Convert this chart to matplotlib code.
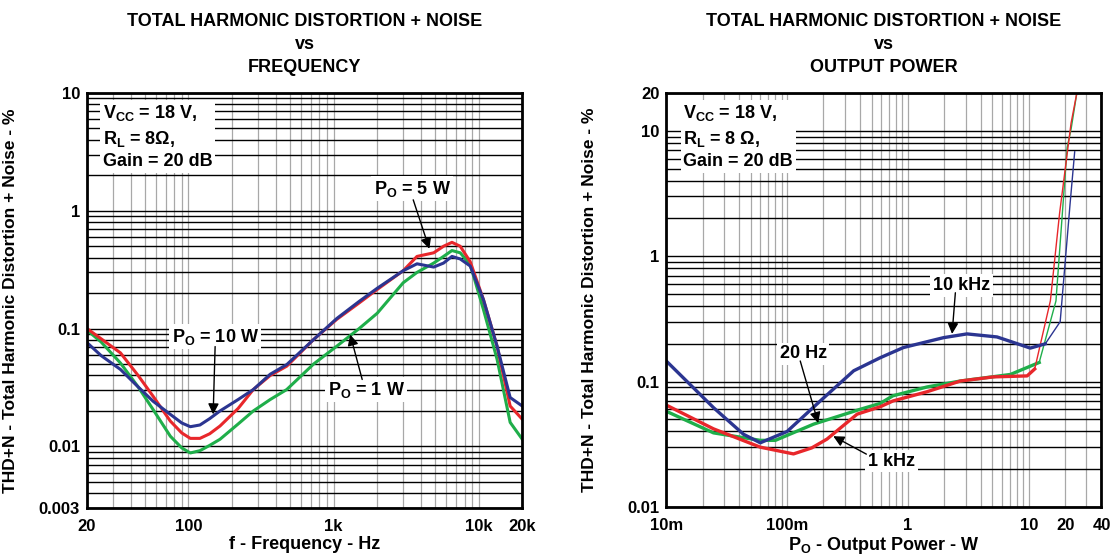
import matplotlib
matplotlib.use('Agg')
import matplotlib.pyplot as plt
from matplotlib.ticker import LogLocator, FixedLocator, NullFormatter

plt.rcParams['font.family'] = ['Liberation Sans', 'DejaVu Sans']
plt.rcParams['font.weight'] = 'bold'
plt.rcParams['axes.labelweight'] = 'bold'
plt.rcParams['axes.titleweight'] = 'bold'
plt.rcParams['mathtext.fontset'] = 'custom'
plt.rcParams['mathtext.rm'] = 'Liberation Sans:bold'
plt.rcParams['mathtext.bf'] = 'Liberation Sans:bold'
plt.rcParams['mathtext.it'] = 'Liberation Sans:bold'

# ---- THD+N vs frequency (Hz, %) ----
freq = [20, 25, 34, 45, 57, 75, 90, 103, 120, 140, 165, 220, 280, 366, 476,
        728, 1054, 1500, 2000, 3020, 3760, 4900, 5730, 6550, 7470, 8750,
        10800, 13400, 16500, 20000]
thd_10w = [0.076, 0.059, 0.045, 0.032, 0.0242, 0.0187, 0.0158, 0.0147, 0.0152,
           0.0172, 0.020, 0.025, 0.0304, 0.041, 0.0495, 0.0807, 0.122, 0.17,
           0.22, 0.31, 0.355, 0.333, 0.36, 0.41, 0.39, 0.34, 0.176, 0.071,
           0.026, 0.022]
thd_5w = [0.100, 0.082, 0.0622, 0.040, 0.0267, 0.0164, 0.013, 0.0117, 0.0117,
          0.0128, 0.0149, 0.021, 0.0304, 0.040, 0.048, 0.0807, 0.120, 0.165,
          0.215, 0.31, 0.41, 0.44, 0.50, 0.54, 0.50, 0.37, 0.176, 0.071,
          0.022, 0.017]
thd_1w = [0.097, 0.077, 0.051, 0.032, 0.0206, 0.0122, 0.0097, 0.0088, 0.0092,
          0.0102, 0.0115, 0.0155, 0.020, 0.025, 0.0304, 0.050, 0.071, 0.10,
          0.135, 0.245, 0.30, 0.36, 0.41, 0.46, 0.44, 0.35, 0.145, 0.055,
          0.016, 0.0115]

# ---- THD+N vs output power (W, %) ----
pwr_10k = [0.01, 0.0246, 0.0436, 0.06, 0.1, 0.188, 0.356, 0.59, 0.92, 1.97,
           3.08, 5.46, 10.3, 13.7, 18.2, 22, 24]
thd_10k = [0.146, 0.062, 0.038, 0.0325, 0.040, 0.070, 0.122, 0.155, 0.187,
           0.224, 0.24, 0.227, 0.185, 0.20, 0.30, 2.64, 6.8]
pwr_1k = [0.01, 0.0246, 0.06, 0.113, 0.16, 0.214, 0.38, 0.59, 0.75, 1.44, 2.71,
          5.1, 9.7, 11.2, 15.1, 18, 22.4, 25]
thd_1k = [0.065, 0.042, 0.030, 0.0265, 0.0296, 0.0348, 0.055, 0.063, 0.070,
          0.083, 0.101, 0.109, 0.111, 0.126, 0.44, 2.2, 11.5, 20]
pwr_20 = [0.01, 0.0246, 0.06, 0.08, 0.166, 0.40, 0.59, 0.75, 1.44, 2.71, 7.05,
          12.2, 16.8, 20.8, 22.4, 25]
thd_20 = [0.058, 0.039, 0.034, 0.034, 0.0458, 0.060, 0.067, 0.077, 0.0906,
          0.101, 0.114, 0.142, 0.44, 7.4, 10.3, 20]

RED = '#e8272b'
BLUE = '#2b3591'
GREEN = '#1fae4a'
BOX = dict(facecolor='white', edgecolor='none', pad=2)


def style_axes(ax, xlim, ylim):
    ax.set_xscale('log')
    ax.set_yscale('log')
    ax.set_xlim(*xlim)
    ax.set_ylim(*ylim)
    ax.yaxis.set_minor_locator(LogLocator(base=10, subs=range(2, 10)))
    ax.xaxis.set_minor_locator(LogLocator(base=10, subs=range(2, 10)))
    ax.yaxis.set_minor_formatter(NullFormatter())
    ax.xaxis.set_minor_formatter(NullFormatter())
    ax.grid(True, axis='y', which='both', color='black', lw=1.0)
    ax.grid(True, axis='x', which='both', color='#a8a8a8', lw=0.9)
    ax.set_axisbelow(True)
    ax.tick_params(which='both', length=0, labelsize=12)
    ax.tick_params(axis='x', pad=8)
    ax.tick_params(axis='y', pad=5)
    for s in ax.spines.values():
        s.set_linewidth(2)
    ax.set_ylabel('THD+N - Total Harmonic Distortion + Noise - %',
                  fontsize=12.5, fontweight='bold')
    ax.yaxis.set_label_coords(-0.158, 0.5)


def arrow(ax, tip, start):
    ax.annotate('', xy=tip, xytext=start,
                arrowprops=dict(arrowstyle='-|>', color='black', lw=1,
                                mutation_scale=16, shrinkA=0, shrinkB=0))


fig = plt.figure(figsize=(11.16, 5.58), dpi=100)

# left panel
ax1 = fig.add_axes([0.078, 0.0896, 0.390, 0.7437])
style_axes(ax1, (20, 20000), (0.003, 10))
ax1.plot(freq, thd_1w, color=GREEN, lw=2.2)
ax1.plot(freq, thd_5w, color=RED, lw=2.2)
ax1.plot(freq, thd_10w, color=BLUE, lw=2.2)
ax1.xaxis.set_major_locator(FixedLocator([20, 100, 1000, 10000, 20000]))
ax1.set_xticklabels(['20', '100', '1k', '10k', '20k'])
ax1.yaxis.set_major_locator(FixedLocator([0.003, 0.01, 0.1, 1, 10]))
ax1.set_yticklabels(['0.003', '0.01', '0.1', '1', '10'])
ax1.set_xlabel('f - Frequency - Hz', fontsize=13, fontweight='bold')
ax1.xaxis.set_label_coords(0.5, -0.068)
ax1.set_title('TOTAL HARMONIC DISTORTION + NOISE\nvs\nFREQUENCY',
              fontsize=13, fontweight='bold', linespacing=1.45, pad=15)
ax1.text(0.037, 0.975, 'V$_{CC}$ = 18 V,\nR$_{L}$ = 8Ω,\nGain = 20 dB',
         transform=ax1.transAxes, fontsize=13, va='top', ha='left',
         linespacing=1.35, bbox=BOX)
ax1.text(3486, 1.54, 'P$_{O}$ = 5 W', fontsize=13, ha='center', va='center', bbox=BOX)
arrow(ax1, (4575, 0.476), (3542, 1.24))
ax1.text(152.7, 0.0855, 'P$_{O}$ = 10 W', fontsize=13, ha='center', va='center', bbox=BOX)
arrow(ax1, (148, 0.0187), (152.7, 0.0704))
ax1.text(1680, 0.0304, 'P$_{O}$ = 1 W', fontsize=13, ha='center', va='center', bbox=BOX)
arrow(ax1, (1303, 0.089), (1576, 0.037))

# right panel
ax2 = fig.add_axes([0.597, 0.0914, 0.390, 0.7419])
style_axes(ax2, (0.01, 40), (0.01, 20))
# thick body, thin steep tail
ax2.plot(pwr_20[:12], thd_20[:12], color=GREEN, lw=2.4)
ax2.plot(pwr_20[11:], thd_20[11:], color=GREEN, lw=1.0)
ax2.plot(pwr_1k[:14], thd_1k[:14], color=RED, lw=2.4)
ax2.plot(pwr_1k[13:], thd_1k[13:], color=RED, lw=1.0)
ax2.plot(pwr_10k[:14], thd_10k[:14], color=BLUE, lw=2.4)
ax2.plot(pwr_10k[13:], thd_10k[13:], color=BLUE, lw=1.0)
ax2.xaxis.set_major_locator(FixedLocator([0.01, 0.1, 1, 10, 20, 40]))
ax2.set_xticklabels(['10m', '100m', '1', '10', '20', '40'])
ax2.yaxis.set_major_locator(FixedLocator([0.01, 0.1, 1, 10, 20]))
ax2.set_yticklabels(['0.01', '0.1', '1', '10', '20'])
ax2.set_xlabel('P$_{O}$ - Output Power - W', fontsize=13, fontweight='bold')
ax2.xaxis.set_label_coords(0.5, -0.068)
ax2.set_title('TOTAL HARMONIC DISTORTION + NOISE\nvs\nOUTPUT POWER',
              fontsize=13, fontweight='bold', linespacing=1.45, pad=15)
ax2.text(0.039, 0.975, 'V$_{CC}$ = 18 V,\nR$_{L}$ = 8 Ω,\nGain = 20 dB',
         transform=ax2.transAxes, fontsize=13, va='top', ha='left',
         linespacing=1.35, bbox=BOX)
ax2.text(2.77, 0.582, '10 kHz', fontsize=13, ha='center', va='center', bbox=BOX)
arrow(ax2, (2.32, 0.24), (2.47, 0.511))
ax2.text(0.136, 0.166, '20 Hz', fontsize=13, ha='center', va='center', bbox=BOX)
arrow(ax2, (0.181, 0.0467), (0.1285, 0.146))
ax2.text(0.729, 0.0232, '1 kHz', fontsize=13, ha='center', va='center', bbox=BOX)
arrow(ax2, (0.241, 0.0367), (0.453, 0.0264))

fig.savefig('out.png', dpi=100)
